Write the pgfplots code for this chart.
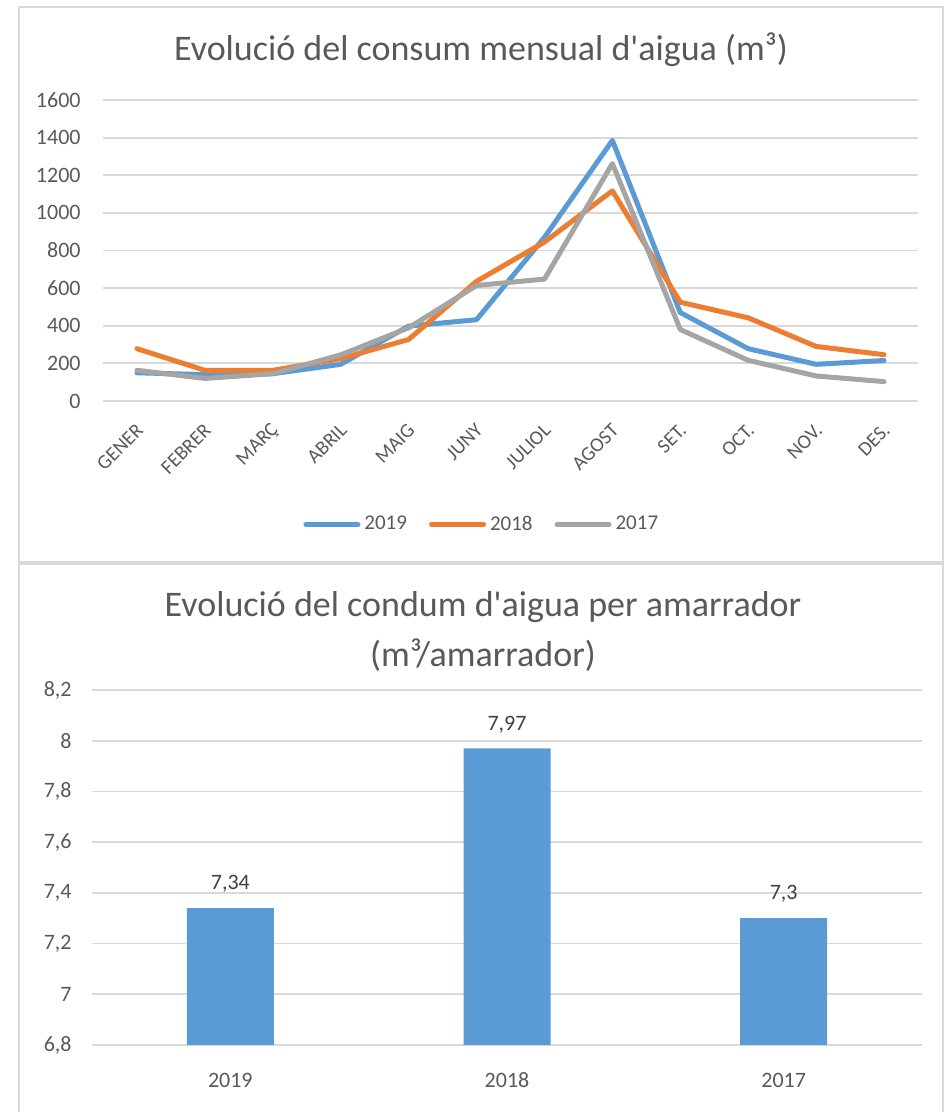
\documentclass[border=0pt]{standalone}
\usepackage{fontspec}
\setmainfont{Carlito}
\usepackage{pgfplots}
\pgfplotsset{compat=1.18}
\definecolor{cblue}{HTML}{5B9BD5}
\definecolor{corange}{HTML}{ED7D31}
\definecolor{cgray}{HTML}{A5A5A5}
\definecolor{gridc}{HTML}{D9D9D9}
\definecolor{txt}{HTML}{595959}
\definecolor{lbl}{HTML}{404040}
\definecolor{borderc}{HTML}{D9D9D9}
\begin{document}
\begin{tikzpicture}
\useasboundingbox (0,0) rectangle (472pt,556pt);
% panel borders
\draw[borderc, line width=0.9pt] (9.5pt,275pt) rectangle (471.5pt,552.5pt);
\draw[borderc, line width=0.9pt] (9.5pt,-5pt) -- (9.5pt,274pt) -- (471.5pt,274pt) -- (471.5pt,-5pt);
% titles
\node[text=txt, font=\fontsize{18}{22}\selectfont, inner sep=0pt] at (240.5pt,531pt) {Evolució del consum mensual d\textquotesingle aigua (m³)};
\node[text=txt, font=\fontsize{18}{22}\selectfont, inner sep=0pt] at (241.5pt,252.5pt) {Evolució del condum d\textquotesingle aigua per amarrador};
\node[text=txt, font=\fontsize{18}{22}\selectfont, inner sep=0pt] at (241.5pt,228.5pt) {(m³/amarrador)};

\begin{axis}[
  at={(51.5pt,355.5pt)}, anchor=south west,
  scale only axis, width=407.5pt, height=150.5pt,
  xmin=-0.5, xmax=11.5, ymin=0, ymax=1600,
  xtick={0,...,11},
  xticklabels={GENER,FEBRER,MARÇ,ABRIL,MAIG,JUNY,JULIOL,AGOST,SET.,OCT.,NOV.,DES.},
  ytick={0,200,...,1600},
  axis line style={draw=none},
  tick style={draw=none},
  ymajorgrids, grid style={gridc, line width=0.9pt},
  tick label style={text=txt, font=\fontsize{11}{13}\selectfont},
  /pgf/number format/assume math mode=true,
  /pgf/number format/1000 sep={},
  yticklabel style={inner sep=0pt, xshift=-11pt},
  xticklabel style={xshift=1.5pt, yshift=-13pt, rotate=45, anchor=east, inner sep=0pt, font=\fontsize{10}{12}\selectfont},
  legend columns=3,
  legend style={draw=none, fill=none, at={(0.466,-0.41)}, anchor=center,
    font=\fontsize{10.5}{12}\selectfont, text=txt, inner sep=0pt,
    /tikz/every even column/.append style={column sep=9pt}},
  legend image code/.code={\draw[#1, line cap=round] (0pt,0pt) -- (26pt,0pt);},
  every axis plot/.append style={line width=2.5pt, line join=round, line cap=round},
]
\addplot[cblue] coordinates {(0,150) (1,140) (2,145) (3,195) (4,398) (5,432) (6,870) (7,1385) (8,470) (9,278) (10,195) (11,215)};
\addlegendentry{2019}
\addplot[corange] coordinates {(0,278) (1,163) (2,163) (3,225) (4,327) (5,636) (6,845) (7,1117) (8,525) (9,442) (10,290) (11,246)};
\addlegendentry{2018}
\addplot[cgray] coordinates {(0,163) (1,120) (2,145) (3,245) (4,389) (5,614) (6,648) (7,1262) (8,380) (9,216) (10,133) (11,103)};
\addlegendentry{2017}
\end{axis}

\begin{axis}[
  at={(46pt,33.5pt)}, anchor=south west,
  scale only axis, width=415pt, height=177.5pt,
  xmin=-0.5, xmax=2.5, ymin=6.8, ymax=8.2,
  xtick={0,1,2}, xticklabels={2019,2018,2017},
  ytick={6.8,7,7.2,7.4,7.6,7.8,8,8.2},
  axis line style={draw=none},
  tick style={draw=none},
  ymajorgrids, grid style={gridc, line width=0.9pt},
  tick label style={text=txt, font=\fontsize{11}{13}\selectfont},
  /pgf/number format/.cd, fixed, precision=2, use comma, assume math mode=true, /pgfplots/.cd,
  yticklabel style={inner sep=0pt, xshift=-10pt},
  xticklabel style={inner sep=0pt, anchor=north, yshift=-9.5pt},
  ybar, bar width=43.5pt, bar shift=0pt,
  nodes near coords,
  nodes near coords style={text=lbl, font=\fontsize{11}{13}\selectfont, anchor=south, inner sep=0pt, yshift=7.5pt},
]
\addplot[fill=cblue, draw=none] coordinates {(0,7.34) (1,7.97) (2,7.3)};
\end{axis}
\end{tikzpicture}
\end{document}
